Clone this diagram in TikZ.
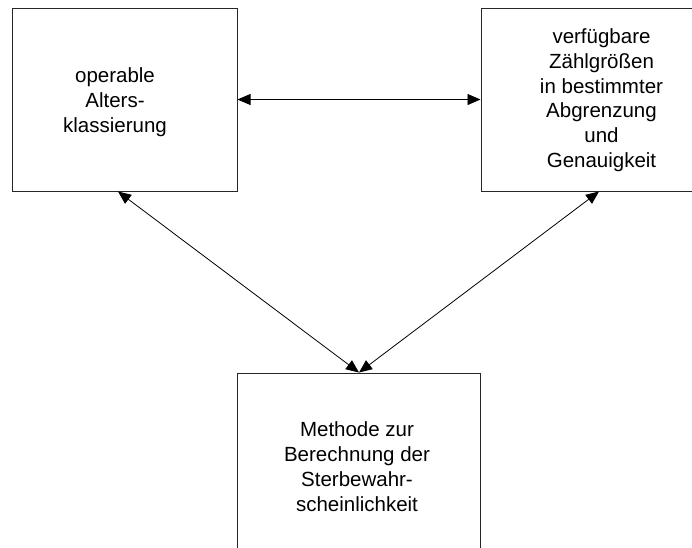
\documentclass[tikz,border=0pt]{standalone}
\usepackage{fontspec}
\setmainfont{Liberation Sans}
\usetikzlibrary{arrows.meta}
\begin{document}
\begin{tikzpicture}[x=1pt,y=-1pt,
  boxnode/.style={draw=black!85, line width=1pt, rectangle, inner sep=0pt},
  txt/.style={align=center, inner sep=0pt, font=\fontsize{20.5pt}{24.8pt}\selectfont},
  link/.style={line width=0.8pt, {Triangle[length=13pt,width=11pt]}-{Triangle[length=13pt,width=11pt]}}]
\useasboundingbox (0,0) rectangle (692,547);
\clip (0,0) rectangle (692,547);
\node[boxnode, minimum width=225pt, minimum height=183pt] (L) at (124.5,99.5) {};
\node[boxnode, minimum width=244pt, minimum height=183pt] (R) at (603,99.5) {};
\node[boxnode, minimum width=243.5pt, minimum height=183pt] (B) at (359,464.5) {};
\node[txt] (Lt) at (115,102.3) {operable\\Alters-\\klassierung};
\node[txt] (Rt) at (601.5,100.2) {verfügbare\\Zählgrößen\\in bestimmter\\Abgrenzung\\und\\Genauigkeit};
\node[txt] (Bt) at (357,466.5) {Methode zur\\Berechnung der\\Sterbewahr-\\scheinlichkeit};
\coordinate (Ls) at ([xshift=-6.5pt]L.south);
\coordinate (Rs) at ([xshift=-4pt]R.south);
\draw[link] (L.east) -- (R.west);
\draw[link] (Ls) -- (B.north);
\draw[link] (Rs) -- (B.north);
\end{tikzpicture}
\end{document}
